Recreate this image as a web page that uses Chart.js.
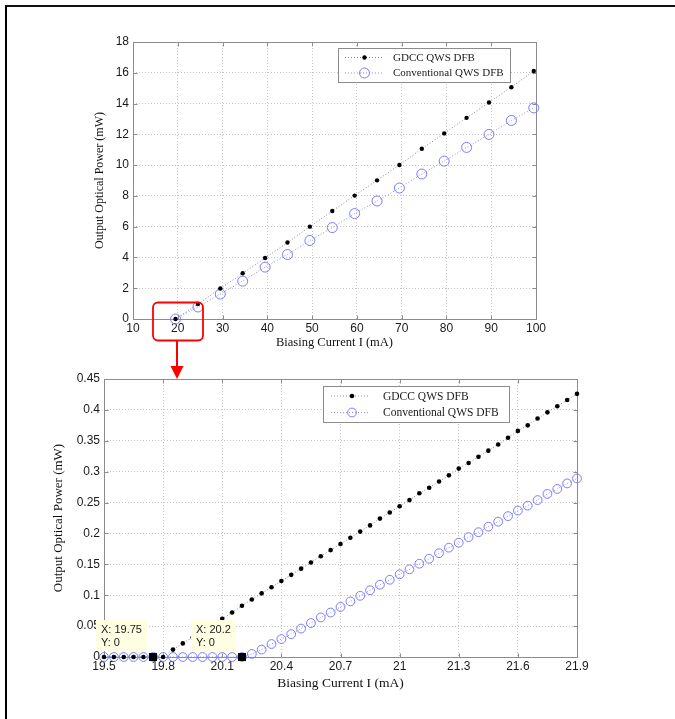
<!DOCTYPE html>
<html>
<head>
<meta charset="utf-8">
<script src="https://cdn.jsdelivr.net/npm/chart.js@4"></script>
<style>
  html, body { margin: 0; padding: 0; background: #fff; overflow: hidden; }
  body { width: 675px; height: 719px; position: relative; }
  #frame { position: absolute; left: 5px; top: 5px; width: 720px; height: 760px; border-left: 2px solid #000; border-top: 2px solid #111; }
  canvas { position: absolute; left: 0; }
  #topChart { top: 0; }
  #bottomChart { top: 360px; }
</style>
</head>
<body>
<div id="frame"></div>
<canvas id="bottomChart" width="675" height="359"></canvas>
<canvas id="topChart" width="675" height="385"></canvas>
<script>
// series names
const seriesLabels = ['GDCC QWS DFB', 'Conventional QWS DFB'];

// top chart: full current range
const topCurrent = [19.5, 24.5, 29.5, 34.5, 39.5, 44.5, 49.5, 54.5, 59.5, 64.5, 69.5, 74.5, 79.5, 84.5, 89.5, 94.5, 99.5];
const topGdcc = [0, 0.97, 1.98, 2.97, 3.96, 4.97, 6.0, 7.02, 8.02, 9.01, 10.01, 11.06, 12.06, 13.07, 14.07, 15.06, 16.12];
const topConventional = [0, 0.78, 1.62, 2.46, 3.37, 4.19, 5.1, 5.94, 6.85, 7.67, 8.51, 9.42, 10.26, 11.15, 11.99, 12.9, 13.72];
const topXTicks = [10, 20, 30, 40, 50, 60, 70, 80, 90, 100];
const topYTicks = [0, 2, 4, 6, 8, 10, 12, 14, 16, 18];

// bottom chart: zoom near threshold
const bottomCurrent = [19.5, 19.55, 19.6, 19.65, 19.7, 19.75, 19.8, 19.85, 19.9, 19.95,
  20.0, 20.05, 20.1, 20.15, 20.2, 20.25, 20.3, 20.35, 20.4, 20.45,
  20.5, 20.55, 20.6, 20.65, 20.7, 20.75, 20.8, 20.85, 20.9, 20.95,
  21.0, 21.05, 21.1, 21.15, 21.2, 21.25, 21.3, 21.35, 21.4, 21.45,
  21.5, 21.55, 21.6, 21.65, 21.7, 21.75, 21.8, 21.85, 21.9];
const bottomGdcc = [0, 0, 0, 0, 0, 0, 0, 0.012, 0.022, 0.032,
  0.042, 0.052, 0.062, 0.072, 0.083, 0.093, 0.103, 0.113, 0.123, 0.133,
  0.143, 0.153, 0.163, 0.173, 0.183, 0.193, 0.203, 0.213, 0.224, 0.234,
  0.244, 0.254, 0.265, 0.274, 0.284, 0.294, 0.305, 0.314, 0.324, 0.334,
  0.344, 0.355, 0.366, 0.375, 0.386, 0.396, 0.406, 0.416, 0.426];
const bottomConventional = [0, 0, 0, 0, 0, 0, 0, 0, 0, 0,
  0, 0, 0, 0, 0, 0.005, 0.012, 0.021, 0.029, 0.037,
  0.046, 0.055, 0.064, 0.072, 0.081, 0.09, 0.099, 0.108, 0.117, 0.125,
  0.134, 0.142, 0.151, 0.159, 0.168, 0.177, 0.185, 0.194, 0.202, 0.211,
  0.219, 0.228, 0.237, 0.245, 0.254, 0.264, 0.272, 0.281, 0.289];
const bottomXTicks = [19.5, 19.8, 20.1, 20.4, 20.7, 21, 21.3, 21.6, 21.9];
const bottomYTicks = [0, 0.05, 0.1, 0.15, 0.2, 0.25, 0.3, 0.35, 0.4, 0.45];

// data tips on the bottom chart
const tipX = [19.75, 20.2];
const tipY = [0, 0];

const SANS = '"Liberation Sans", Arial, sans-serif';
const SERIF = '"Liberation Serif", "Times New Roman", serif';

// axes box and inner tick marks
const frameBox = {
  id: 'frameBox',
  beforeDatasetsDraw(chart) {
    const { ctx, chartArea: a, scales } = chart;
    ctx.save();
    ctx.strokeStyle = '#8c8c8c';
    ctx.lineWidth = 1;
    const l = Math.round(a.left) + 0.5, t = Math.round(a.top) + 0.5;
    const r = Math.round(a.right) + 0.5, b = Math.round(a.bottom) + 0.5;
    ctx.strokeRect(l, t, r - l, b - t);
    ctx.beginPath();
    scales.x.ticks.forEach(tk => {
      const px = Math.round(scales.x.getPixelForValue(tk.value)) + 0.5;
      ctx.moveTo(px, b); ctx.lineTo(px, b - 4);
      ctx.moveTo(px, t); ctx.lineTo(px, t + 4);
    });
    scales.y.ticks.forEach(tk => {
      const py = Math.round(scales.y.getPixelForValue(tk.value)) + 0.5;
      ctx.moveTo(l, py); ctx.lineTo(l + 4, py);
      ctx.moveTo(r, py); ctx.lineTo(r - 4, py);
    });
    ctx.stroke();
    ctx.restore();
  }
};

// MATLAB style legend box inside the axes
const boxLegend = {
  id: 'boxLegend',
  afterDraw(chart, args, opts) {
    const { ctx, chartArea: a } = chart;
    const left = Math.round(a.right - opts.right - opts.width);
    const top = Math.round(a.top + opts.top);
    ctx.save();
    ctx.fillStyle = '#fff';
    ctx.fillRect(left, top, opts.width, opts.height);
    ctx.strokeStyle = '#8c8c8c';
    ctx.lineWidth = 1;
    ctx.strokeRect(left + 0.5, top + 0.5, opts.width, opts.height);
    chart.data.datasets.forEach((ds, i) => {
      const y = top + opts.rows[i];
      ctx.strokeStyle = ds.borderColor;
      ctx.lineWidth = ds.borderWidth;
      ctx.setLineDash(ds.borderDash);
      ctx.beginPath();
      ctx.moveTo(left + opts.lineFrom, y);
      ctx.lineTo(left + opts.lineTo, y);
      ctx.stroke();
      ctx.setLineDash([]);
      ctx.beginPath();
      ctx.arc(left + opts.marker, y, ds.pointRadius, 0, Math.PI * 2);
      if (ds.pointBackgroundColor !== 'transparent') {
        ctx.fillStyle = ds.pointBackgroundColor;
        ctx.fill();
      }
      if (ds.pointBorderWidth > 0) {
        ctx.strokeStyle = ds.pointBorderColor;
        ctx.lineWidth = ds.pointBorderWidth;
        ctx.stroke();
      }
      ctx.fillStyle = '#1a1a1a';
      ctx.font = opts.fontSize + 'px ' + SERIF;
      ctx.textAlign = 'left';
      ctx.textBaseline = 'middle';
      ctx.fillText(ds.label, left + opts.text, y + 0.5);
    });
    ctx.restore();
  }
};

// data cursor boxes
const dataTips = {
  id: 'dataTips',
  afterDraw(chart, args, opts) {
    if (!opts.show) return;
    const { ctx, scales: { x, y } } = chart;
    ctx.save();
    ctx.font = '11px ' + SANS;
    tipX.forEach((vx, i) => {
      const px = x.getPixelForValue(vx), py = y.getPixelForValue(tipY[i]);
      const lines = ['X: ' + vx, 'Y: ' + tipY[i]];
      const w = Math.max(...lines.map(s => ctx.measureText(s).width)) + 10;
      const h = 31;
      const bx = Math.round(px - 6 - w), by = Math.round(py - 6 - h);
      ctx.fillStyle = '#fefee3';
      ctx.fillRect(bx, by, w, h);
      ctx.fillStyle = '#1a1a1a';
      ctx.textAlign = 'left';
      ctx.textBaseline = 'middle';
      ctx.fillText(lines[0], bx + 5, by + 9.5);
      ctx.fillText(lines[1], bx + 5, by + 22.5);
      ctx.fillStyle = '#000';
      ctx.fillRect(Math.round(px) - 4, Math.round(py) - 4, 8, 8);
    });
    ctx.restore();
  }
};

// red box around the threshold region with an arrow pointing down
const zoomMark = {
  id: 'zoomMark',
  afterDraw(chart, args, opts) {
    if (!opts.show) return;
    const { ctx, scales: { x, y } } = chart;
    const px = Math.round(x.getPixelForValue(opts.x)), py = Math.round(y.getPixelForValue(opts.y));
    const l = px - 23, t = py - 16.5, w = 50, h = 38, r = 5;
    ctx.save();
    ctx.strokeStyle = '#ff0000';
    ctx.lineWidth = 1.8;
    ctx.beginPath();
    ctx.moveTo(l + r, t);
    ctx.arcTo(l + w, t, l + w, t + h, r);
    ctx.arcTo(l + w, t + h, l, t + h, r);
    ctx.arcTo(l, t + h, l, t, r);
    ctx.arcTo(l, t, l + w, t, r);
    ctx.closePath();
    ctx.stroke();
    ctx.lineWidth = 2;
    ctx.beginPath();
    ctx.moveTo(px + 1, t + h);
    ctx.lineTo(px + 1, py + 49);
    ctx.stroke();
    ctx.fillStyle = '#ff0000';
    ctx.beginPath();
    ctx.moveTo(px - 5.5, py + 47);
    ctx.lineTo(px + 7.5, py + 47);
    ctx.lineTo(px + 1, py + 60);
    ctx.closePath();
    ctx.fill();
    ctx.restore();
  }
};

function axis(ticks, title, cfg) {
  return {
    type: 'linear',
    min: ticks[0],
    max: ticks[ticks.length - 1],
    afterBuildTicks: s => { s.ticks = ticks.map(v => ({ value: v })); },
    afterFit: s => { if (cfg.width) s.width = cfg.width; if (cfg.height) s.height = cfg.height; },
    ticks: {
      autoSkip: false,
      maxRotation: 0,
      padding: cfg.tickPad,
      color: '#1a1a1a',
      font: { family: SANS, size: 12 },
      callback: v => String(v)
    },
    grid: { color: '#c4c4c4', lineWidth: 1, drawTicks: false },
    border: { display: false, dash: [1, 2] },
    title: {
      display: true,
      text: title,
      color: '#111',
      font: { family: SERIF, size: cfg.titleSize },
      padding: cfg.titlePad
    }
  };
}

function buildChart(canvasId, current, gdcc, conv, cfg) {
  return new Chart(document.getElementById(canvasId), {
    type: 'line',
    data: {
      datasets: [
        {
          label: seriesLabels[0],
          data: current.map((v, i) => ({ x: v, y: gdcc[i] })),
          borderColor: '#8a8a8a',
          borderWidth: 1,
          borderDash: [1, 2],
          pointRadius: cfg.dotRadius,
          pointBackgroundColor: '#000',
          pointBorderColor: '#000',
          pointBorderWidth: 0,
          clip: false
        },
        {
          label: seriesLabels[1],
          data: current.map((v, i) => ({ x: v, y: conv[i] })),
          borderColor: '#8c8cff',
          borderWidth: 1,
          borderDash: [1, 2],
          pointRadius: cfg.ringRadius,
          pointBackgroundColor: 'transparent',
          pointBorderColor: '#7b7bff',
          pointBorderWidth: 1,
          clip: false
        }
      ]
    },
    options: {
      responsive: false,
      animation: false,
      events: [],
      layout: { padding: cfg.padding },
      plugins: {
        legend: { display: false },
        tooltip: { enabled: false },
        boxLegend: cfg.legend,
        dataTips: { show: cfg.tips },
        zoomMark: cfg.zoomMark
      },
      scales: {
        x: axis(cfg.xTicks, 'Biasing Current I (mA)', cfg.x),
        y: axis(cfg.yTicks, 'Output Optical Power (mW)', cfg.y)
      }
    },
    plugins: [frameBox, boxLegend, dataTips, zoomMark]
  });
}

buildChart('topChart', topCurrent, topGdcc, topConventional, {
  xTicks: topXTicks,
  yTicks: topYTicks,
  dotRadius: 2.2,
  ringRadius: 5,
  padding: { left: 93, right: 139, top: 42, bottom: 33 },
  x: { height: 33, tickPad: 2, titleSize: 12.5, titlePad: { top: 0, bottom: 1.5 } },
  y: { width: 40, tickPad: 4, titleSize: 12, titlePad: { top: 0, bottom: 0 } },
  legend: { right: 26, top: 5.5, width: 172, height: 34, rows: [9.5, 25], lineFrom: 7, lineTo: 45, marker: 26.5, text: 55, fontSize: 11 },
  tips: false,
  zoomMark: { show: true, x: 19.5, y: 0 }
});

buildChart('bottomChart', bottomCurrent, bottomGdcc, bottomConventional, {
  xTicks: bottomXTicks,
  yTicks: bottomYTicks,
  dotRadius: 2.3,
  ringRadius: 4.4,
  padding: { left: 50, right: 98, top: 19, bottom: 26 },
  x: { height: 36, tickPad: 2, titleSize: 13.5, titlePad: { top: 0, bottom: 1.5 } },
  y: { width: 54, tickPad: 4, titleSize: 13, titlePad: { top: 0.5, bottom: 0 } },
  legend: { right: 68, top: 6.5, width: 186, height: 36, rows: [10, 26.5], lineFrom: 8, lineTo: 47, marker: 29, text: 60, fontSize: 11.5 },
  tips: true,
  zoomMark: { show: false }
});
</script>
</body>
</html>
